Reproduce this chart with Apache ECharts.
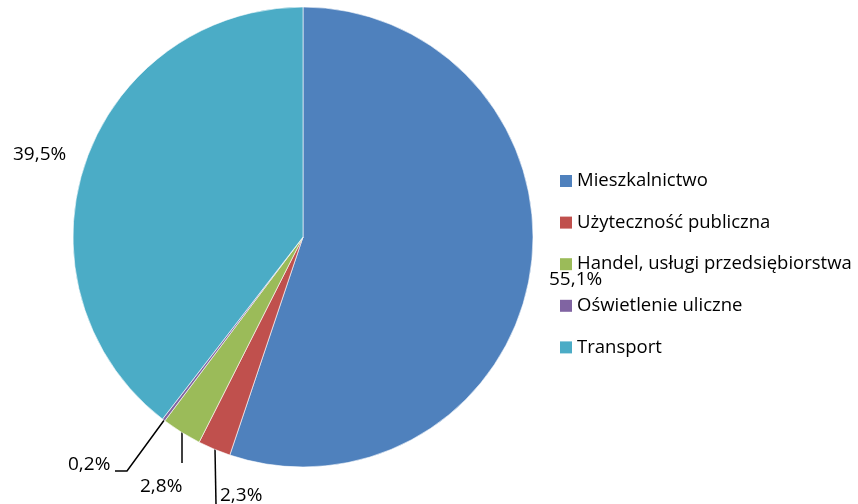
<!DOCTYPE html>
<html><head><meta charset="utf-8">
<script src="https://cdn.jsdelivr.net/npm/echarts@6/dist/echarts.min.js"></script>
<style>html,body{margin:0;padding:0;background:#fff}#c{width:858px;height:504px}</style>
</head><body><div id="c"></div>
<script>
const categories = ['Mieszkalnictwo','Użyteczność publiczna','Handel, usługi przedsiębiorstwa','Oświetlenie uliczne','Transport'];
const values = [55.1, 2.3, 2.8, 0.2, 39.5];
const labels = ['55,1%','2,3%','2,8%','0,2%','39,5%'];
const colors = ['#4F81BD','#C0504D','#9BBB59','#8064A2','#4BACC6'];

// label placement (layout only)
const labelPos = [
  {x:549, y:280, line:null},
  {x:220, y:496, line:[[215,449],[216,504],[216,504]]},
  {x:140, y:487, line:[[182,432],[182,463],[182,463]]},
  {x:68,  y:465, line:[[165,419],[127,471],[115,471]]},
  {x:13,  y:155, line:null}
];

const chart = echarts.init(document.getElementById('c'));
const font = '"Open Sans", sans-serif';
chart.setOption({
  animation:false,
  color: colors,
  legend:{
    orient:'vertical', left:560, top:171.5, padding:0,
    itemWidth:12, itemHeight:12, itemGap:22.6,
    icon:'rect',
    itemStyle:{borderWidth:0},
    textStyle:{fontFamily:font, fontSize:18.5, lineHeight:19, color:'#000'},
    data: categories
  },
  series:[{
    type:'pie',
    center:[303,237], radius:230,
    startAngle:90, clockwise:true,
    itemStyle:{borderColor:'#fff', borderWidth:0.6},
    label:{show:true, formatter:p=>labels[p.dataIndex], fontFamily:font, fontSize:19, color:'#000', overflow:'none'},
    labelLine:{show:true, lineStyle:{color:'#000', width:1.5}},
    labelLayout: function(p){
      const lp = labelPos[p.dataIndex];
      const o = {x:lp.x, y:lp.y, align:'left', verticalAlign:'middle'};
      if (lp.line) o.labelLinePoints = lp.line;
      return o;
    },
    data: categories.map((n,i)=>({name:n, value:values[i], labelLine:{show: !!labelPos[i].line}}))
  }]
});
</script></body></html>
